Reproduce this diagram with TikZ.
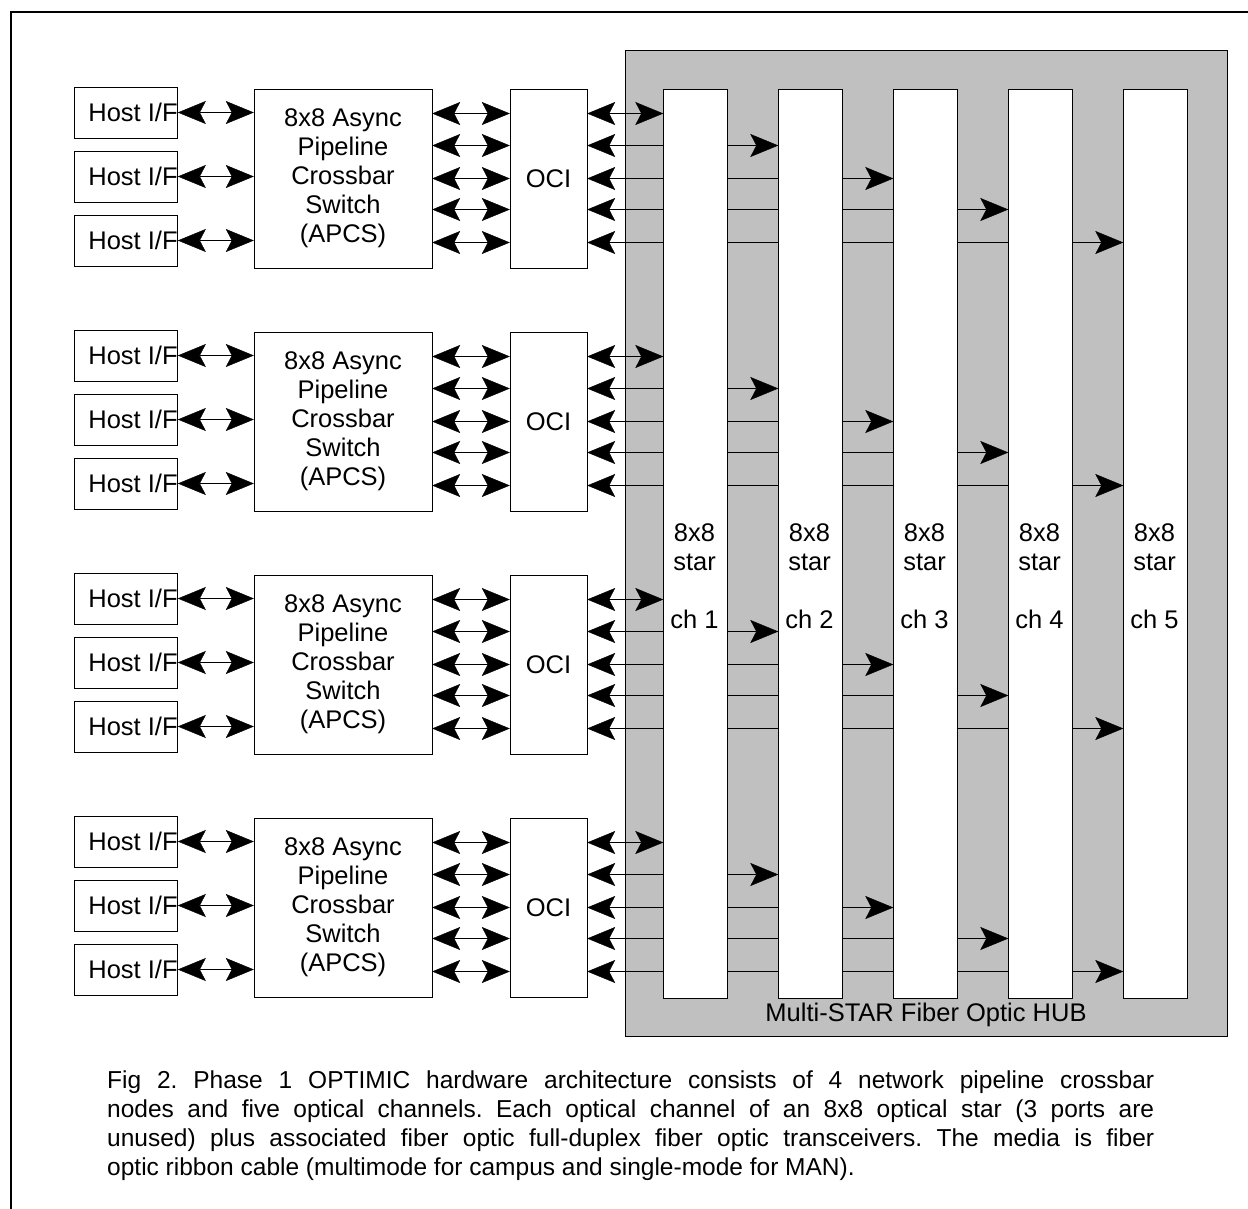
\documentclass[tikz,border=0pt]{standalone}
\usepackage{fontspec}
\setmainfont{Liberation Sans}
\usetikzlibrary{arrows.meta,calc}
\usepackage{xcolor}
\definecolor{hubgray}{RGB}{192,192,192}
\pgfdeclarelayer{hubbg}
\pgfdeclarelayer{wires}
\pgfsetlayers{hubbg,wires,main}

\begin{document}
\begin{tikzpicture}[x=1pt,y=-1pt,line width=2pt,
  every node/.style={font=\fontsize{25.5}{29}\selectfont},
  box/.style={draw,fill=white,inner sep=0pt},
  link/.style={{Stealth[length=28pt,width=23pt,inset=6pt]}-{Stealth[length=28pt,width=23pt,inset=6pt]}}]
  \useasboundingbox (0,0) rectangle (1248,1209);
  \draw[line width=2.5pt] (11,1209) -- (11,12) -- (1248,12);
  \begin{pgfonlayer}{hubbg}
    \node[draw,fill=hubgray,minimum width=602,minimum height=986,inner sep=0pt] (hub) at (926,543) {};
  \end{pgfonlayer}
  \node (hublabel) at (926,1015) {Multi-STAR Fiber Optic HUB};
  \foreach \k in {1,...,5}{
    \node[box,minimum width=64,minimum height=909] (ch\k) at ({695.5+115*(\k-1)},543.5) {};
    \node[align=center,inner sep=0pt] (chl\k) at ({694.5+115*(\k-1)},576) {8x8\\star\\[29pt]ch \k};
  }
  \foreach \g/\top in {1/89,2/332,3/575,4/818}{
    \node[box,minimum width=178,minimum height=179,align=center] (a\g) at (343,\top+89.5)
      {8x8 Async\\Pipeline\\Crossbar\\Switch\\(APCS)};
    \node[box,minimum width=77,minimum height=179] (o\g) at (548.5,\top+89.5) {OCI};
    \foreach \r/\dy in {1/-64,2/0,3/64}{
      \node[box,minimum width=102,minimum height=51] (h\g\r) at (126,\top+87.5+\dy) {\hspace*{14pt}Host I/F};
      \draw[link] (h\g\r.east) -- (h\g\r.east -| a\g.west);
    }
    \foreach \k/\dy in {1/-65,2/-33,3/0,4/31,5/64}{
      \coordinate (l\g\k) at ($(a\g.east)+(0,\dy)$);
      \coordinate (r\g\k) at ($(o\g.east)+(0,\dy)$);
      \draw[link] (l\g\k) -- (l\g\k -| o\g.west);
      \begin{pgfonlayer}{wires}
        \draw[link] (r\g\k) -- (r\g\k -| ch\k.west);
      \end{pgfonlayer}
    }
  }
  \node[anchor=north west,inner sep=0pt,text width=1047,align=justify,font=\fontsize{24.5}{29}\selectfont] (caption) at (107,1071)
    {\frenchspacing\hyphenpenalty=10000 Fig 2. Phase 1 OPTIMIC hardware architecture consists of 4 network pipeline crossbar\linebreak
     nodes and five optical channels. Each optical channel of an 8x8 optical star (3 ports are\linebreak
     unused) plus associated fiber optic full-duplex fiber optic transceivers. The media is fiber\linebreak
     optic ribbon cable (multimode for campus and single-mode for MAN).};
\end{tikzpicture}
\end{document}
